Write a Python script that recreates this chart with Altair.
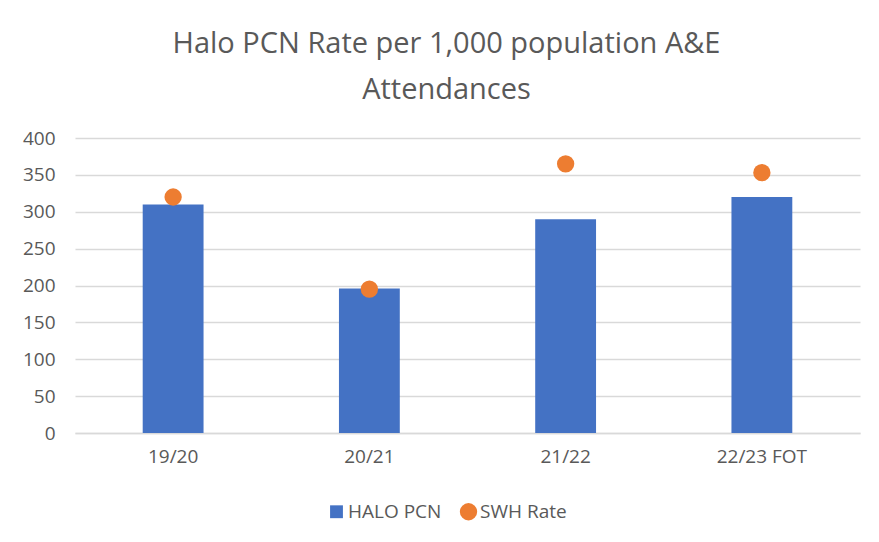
import altair as alt
import pandas as pd

years = ["19/20", "20/21", "21/22", "22/23 FOT"]
halo_pcn = [310, 196, 290, 320]
swh_rate = [320, 195, 365, 353]
series_names = ["HALO PCN", "SWH Rate"]
colors = ["#4472C4", "#ED7D31"]

rows = []
for y, v in zip(years, halo_pcn):
    rows.append({"year": y, "series": "HALO PCN", "value": v})
for y, v in zip(years, swh_rate):
    rows.append({"year": y, "series": "SWH Rate", "value": v})
df = pd.DataFrame(rows)

FONT = "Open Sans"
GREY = "#595959"

x = alt.X("year:N", sort=years, title=None,
          scale=alt.Scale(paddingInner=0.69, paddingOuter=0.345),
          axis=alt.Axis(labelAngle=0, labelFontSize=19, labelColor=GREY, labelFont=FONT,
                        ticks=False, domainColor="#d9d9d9", domainWidth=1.5,
                        labelPadding=14, grid=False))
y = alt.Y("value:Q", title=None,
          scale=alt.Scale(domain=[0, 400], nice=False),
          axis=alt.Axis(values=list(range(0, 401, 50)), labelFontSize=19, labelColor=GREY,
                        labelFont=FONT, ticks=False, domain=False, gridColor="#d9d9d9",
                        gridWidth=1.5, labelPadding=20))

color = alt.Color("series:N", scale=alt.Scale(domain=series_names, range=colors),
                  legend=alt.Legend(title=None, orient="none", direction="horizontal",
                                    legendX=252, legendY=364, labelFontSize=19,
                                    labelColor=GREY, labelFont=FONT, labelOffset=2,
                                    columnPadding=17, padding=0))

bars = alt.Chart(df).transform_filter(alt.datum.series == "HALO PCN").mark_bar().encode(
    x=x, y=y, color=color)

points = alt.Chart(df).transform_filter(alt.datum.series == "SWH Rate").mark_point(
    filled=True, opacity=1).encode(
    x=x, y=y, color=color,
    shape=alt.Shape("series:N", scale=alt.Scale(domain=series_names, range=["square", "circle"])),
    size=alt.Size("series:N", scale=alt.Scale(domain=series_names, range=[165, 300])))

chart = alt.layer(bars, points).properties(
    width=785, height=295,
    autosize=alt.AutoSizeParams(type="none"),
    padding={"left": 67, "top": 130, "right": 11, "bottom": 96},
    title=alt.Title(text=["Halo PCN Rate per 1,000 population A&E", "Attendances"],
                    anchor="middle", fontSize=29, font=FONT, fontWeight="normal",
                    color=GREY, lineHeight=46, offset=24, dx=-21),
).configure_view(stroke=None)

chart.save("out.html", embed_options={"renderer": "svg", "actions": False})
